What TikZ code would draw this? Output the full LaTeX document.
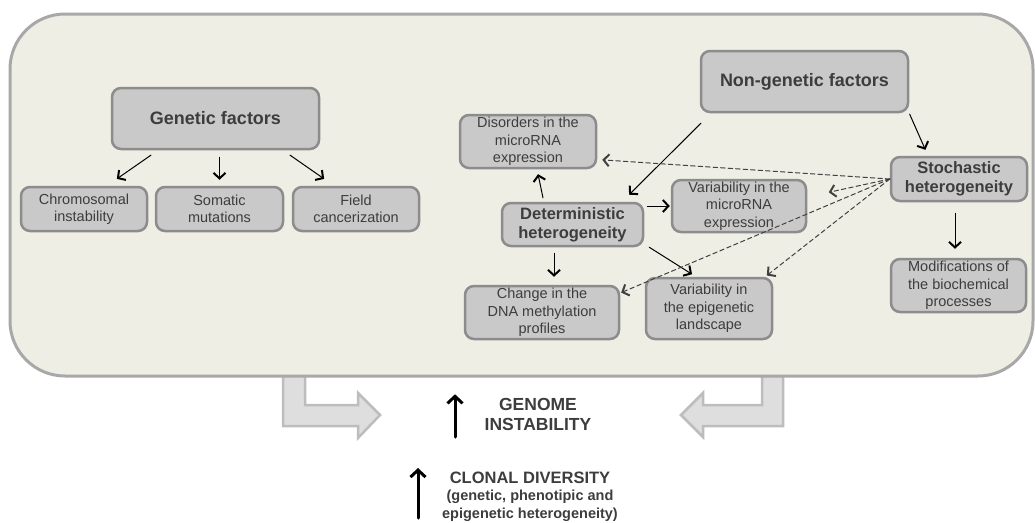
\documentclass[tikz,border=0pt]{standalone}
\usepackage{fontspec}
\setmainfont{Liberation Sans}
\usepackage{tikz}
\usetikzlibrary{calc}
\usetikzlibrary{arrows.meta}
\definecolor{bgbeige}{rgb}{0.937,0.933,0.898}
\definecolor{bgline}{rgb}{0.66,0.66,0.66}
\definecolor{boxfill}{rgb}{0.79,0.79,0.79}
\definecolor{boxline}{rgb}{0.55,0.55,0.55}
\definecolor{txtgray}{rgb}{0.24,0.24,0.24}
\definecolor{bigfill}{rgb}{0.87,0.87,0.87}
\definecolor{bigline}{rgb}{0.74,0.74,0.74}
\definecolor{dashgray}{rgb}{0.25,0.25,0.25}

\begin{document}
\begin{tikzpicture}[line cap=round,line join=round,x=1pt,y=-1pt,
    box/.style={draw=boxline,fill=boxfill,line width=2.5pt,rounded corners=9pt,align=center,text=txtgray,inner sep=0pt,font=\fontsize{14.5}{16.5}\selectfont},
    threebox/.style={box,font=\fontsize{14.5}{17.5}\selectfont},
    bigbox/.style={box,font=\fontsize{18}{21}\selectfont\bfseries},
    midbox/.style={box,font=\fontsize{16.5}{19}\selectfont\bfseries},
    arr/.style={line width=1pt,-{Straight Barb[length=5.5pt,width=12pt,line width=2pt]}},
    darr/.style={line width=1pt,dashgray,dash pattern=on 4.5pt off 3pt,-{Straight Barb[length=5.5pt,width=12pt,line width=2pt]}},
    uparr/.style={line width=3pt,-{Straight Barb[length=7pt,width=15pt,line width=3pt]}},
    bigarr/.style={fill=bigfill,draw=bigline,line width=2.5pt,line join=miter}]
\useasboundingbox (0,0) rectangle (1035,522);
\draw [bigarr] (283,372) -- (283,426) -- (358,426) -- (358,438) -- (380,415) -- (358,393) -- (358,405) -- (305,405) -- (305,372) -- cycle;
\draw [bigarr] (783,372) -- (783,426) -- (703,426) -- (703,437) -- (681,415) -- (703,393) -- (703,405) -- (762,405) -- (762,372) -- cycle;
\draw [fill=bgbeige,draw=bgline,line width=3pt,rounded corners=55pt] (10,14) rectangle (1033,376);
\node [bigbox,minimum width=207,minimum height=61] (gen) at (215.5,118.5) {Genetic factors};
\node [box,minimum width=126,minimum height=44] (chrom) at (84,209) {Chromosomal\\instability};
\node [box,minimum width=127,minimum height=44] (soma) at (219.5,209) {Somatic\\mutations};
\node [box,minimum width=126,minimum height=44] (field) at (356,209) {Field\\cancerization};
\node [bigbox,minimum width=207,minimum height=61] (nongen) at (804.5,81.5) {Non-genetic factors};
\node [threebox,minimum width=136,minimum height=53] (disord) at (528,141.5) {Disorders in the\\microRNA\\expression};
\node [midbox,minimum width=136,minimum height=44] (stoch) at (959,179) {Stochastic\\heterogeneity};
\node [midbox,minimum width=141,minimum height=43] (determ) at (572.5,224.5) {Deterministic\\heterogeneity};
\node [threebox,minimum width=134,minimum height=52] (varmir) at (739,206) {Variability in the\\microRNA\\expression};
\node [threebox,minimum width=135,minimum height=53] (modif) at (958.5,285.5) {Modifications of\\the biochemical\\processes};
\node [threebox,minimum width=154,minimum height=53] (change) at (542,312.5) {Change in the\\DNA methylation\\profiles};
\node [threebox,minimum width=126,minimum height=61] (varepi) at (709,308.5) {Variability in\\the epigenetic\\landscape};
\draw [arr,shorten <=8.5pt,shorten >=12pt] ([xshift=-57.5pt]gen.south) -- ([xshift=23pt]chrom.north);
\draw [arr,shorten <=7pt,shorten >=6pt] (gen.south -| soma.north) -- (soma.north);
\draw [arr,shorten <=8.5pt,shorten >=12pt] ([xshift=67.5pt]gen.south) -- ([xshift=-22pt]field.north);
\draw [arr,shorten <=14pt,shorten >=10pt] ([xshift=-93.5pt]nongen.south) -- ([xshift=49.5pt]determ.north);
\draw [arr,shorten <=1pt,shorten >=6.5pt] (nongen.south east) -- ([xshift=-31pt]stoch.north);
\draw [arr,shorten <=4pt,shorten >=5pt] ([xshift=-28.7pt]determ.north) -- ([xshift=9pt]disord.south);
\draw [arr,shorten <=3pt,shorten >=1pt] (determ.east |- varmir.west) -- (varmir.west);
\draw [arr,shorten <=6pt,shorten >=8pt] ([xshift=-18.5pt]determ.south) -- ([xshift=12pt]change.north);
\draw [arr,shorten >=4.7pt] ([xshift=5pt]determ.south east) -- ([xshift=-13pt]varepi.north);
\draw [arr,shorten <=11pt,shorten >=9pt] ([xshift=-4pt]stoch.south) -- ([xshift=-3.5pt]modif.north);
\draw [darr,shorten >=5pt] (stoch.west) -- ([yshift=-18pt]disord.east);
\draw [darr,shorten >=22pt] (stoch.west) -- ([yshift=9pt]varmir.east);
\draw [darr,shorten >=1pt] (stoch.west) -- ([yshift=19.5pt]change.east);
\draw [darr,shorten >=2pt] (stoch.west) -- ([xshift=-8pt]varepi.north east);
\node [text=txtgray,align=center,font=\fontsize{17.5}{20}\selectfont\bfseries] (genome) at (538,414) {GENOME\\INSTABILITY};
\coordinate (gtail) at (455,437);
\draw [uparr] (gtail) -- (gtail |- genome.north);
\node [text=txtgray,align=center,font=\fontsize{14.5}{17.5}\selectfont\bfseries,anchor=north] (clonal) at (530,468) {{\fontsize{16.5}{18}\selectfont CLONAL DIVERSITY}\\(genetic, phenotipic and\\epigenetic heterogeneity)};
\coordinate (ctail) at (418,518);
\draw [uparr] (ctail) -- (ctail |- clonal.north);
\end{tikzpicture}
\end{document}
